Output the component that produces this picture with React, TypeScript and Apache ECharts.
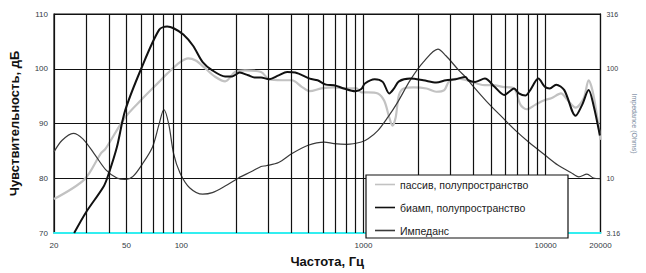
import React, { useEffect, useRef } from "react";
import * as echarts from "echarts";

const FONT = "'Liberation Sans', Arial, sans-serif";

const seriesNames = ["пассив, полупространство", "биамп, полупространство", "Импеданс"];

const xTickLabels = [20, 50, 100, 1000, 10000, 20000];
const freqGridLines = [
  30, 40, 50, 60, 70, 80, 90, 100,
  200, 300, 400, 500, 600, 700, 800, 900, 1000,
  2000, 3000, 4000, 5000, 6000, 7000, 8000, 9000, 10000,
];
const impedanceTickLabels = [3.16, 10, 100, 316];

const passive: [number, number][] = [
  [20, 76.2], [29.4, 79.8], [36.1, 84.5], [38.4, 85.4], [49.1, 91.1], [60.2, 94.3],
  [75.5, 97.6], [83.6, 99.1], [98.5, 101.2], [109, 101.9], [120, 101.5], [136, 100],
  [154, 98.5], [174, 97.7], [197, 99.4], [223, 99.7], [274, 99.4], [303, 98.1],
  [358, 97.9], [405, 97.9], [458, 96.7], [507, 95.9], [586, 96.4], [690, 96.6],
  [809, 96.4], [915, 96.4], [973, 95.7], [1060, 95.7], [1199, 95.5], [1302, 94.1],
  [1385, 91.1], [1442, 89.6], [1502, 91.1], [1566, 95.2], [1664, 96.4], [1883, 96.6],
  [2218, 96.4], [2508, 95.8], [2777, 96.1], [2953, 97.7], [3327, 98.2], [4188, 97.3],
  [4638, 97.0], [5136, 97.0], [5806, 96.7], [6704, 96.4], [7280, 93.4], [7896, 92.6],
  [8756, 93.4], [9900, 94.3], [10740, 94.6], [12140, 95.5], [13180, 94.3], [14600, 92.9],
  [16180, 94.6], [17220, 97.9], [18300, 95.2], [20000, 87],
];

const biamp: [number, number][] = [
  [25.8, 70], [30, 73.8], [37.6, 78.6], [40, 80.9], [44.3, 85.7], [49.1, 92.3],
  [60.2, 100], [75.5, 107.1], [83.6, 107.7], [90.7, 107.4], [102.6, 106.25], [116, 104.2],
  [131, 101.2], [148, 99.7], [174, 98.6], [190, 98.6], [209, 99.3], [233, 98.8],
  [252, 98.4], [274, 98.4], [303, 98.1], [342, 98.8], [381, 99.4], [422, 99.3],
  [507, 98.2], [560, 97.9], [623, 97.1], [690, 97.0], [780, 96.4], [901, 95.9],
  [973, 96.3], [1018, 97.3], [1152, 98.1], [1275, 97.6], [1385, 95.5], [1472, 96.4],
  [1566, 97.7], [1806, 98.2], [2130, 97.9], [2508, 97.5], [2836, 97.9], [3206, 98.1],
  [3626, 98.5], [3762, 97.9], [4100, 97.6], [4638, 98.2], [5244, 96.7], [5930, 95.2],
  [6306, 95.8], [6704, 96.4], [7130, 95.5], [7742, 95.1], [8232, 96.1], [9120, 98.2],
  [9900, 96.7], [10530, 96.4], [11420, 97.1], [12660, 96.1], [14600, 91.4], [15860, 93.4],
  [17220, 96.1], [18300, 93.4], [19860, 87.8],
];

const impedance: [number, number][] = [
  [20, 17.4], [22.1, 22.1], [25.5, 25.7], [28.8, 22.9], [33.2, 16.8], [38.4, 12.0],
  [44.3, 10.05], [49.1, 9.73], [54.3, 10.4], [61.5, 13.7], [69.5, 19.3], [75.5, 31.2],
  [80.2, 42.4], [85.3, 31.2], [90.7, 16.8], [98.5, 11.1], [111, 8.19], [131, 7.15],
  [148, 7.38], [174, 8.48], [206, 10.05], [243, 11.5], [274, 12.8], [292, 13.0],
  [342, 13.9], [405, 16.8], [497, 20.0], [610, 21.4], [690, 20.7], [809, 20.4],
  [973, 21.4], [1060, 22.9], [1199, 27.2], [1356, 35.7], [1533, 48.7], [1806, 78.6],
  [2130, 114.7], [2562, 150.8], [2836, 131.3], [3340, 96.5], [3626, 84.3], [4016, 68.6],
  [4736, 50.4], [5806, 35.7], [6846, 27.2], [8062, 21.4], [9900, 16.3], [11660, 13.2],
  [13740, 11.3], [15220, 10.3], [16860, 10.9], [18300, 10.05], [19860, 9.93],
];

export default function App() {
  const ref = useRef<HTMLDivElement>(null);
  useEffect(() => {
    if (!ref.current) return;
    const chart = echarts.init(ref.current, null, { renderer: "svg" });
    const labelStyle = { fontFamily: FONT, fontSize: 8, color: "#333a44" };
    const plain = (v: number) => String(Math.round(v * 100) / 100);
    chart.setOption({
      animation: false,
      backgroundColor: "#fff",
      grid: { left: 52, top: 14, right: 32, bottom: 35, show: true, borderColor: "#111", borderWidth: 1.2, backgroundColor: "transparent" },
      xAxis: {
        type: "log",
        logBase: 10,
        min: 20,
        max: 20000,
        name: "Частота, Гц",
        nameLocation: "middle",
        nameGap: 22,
        nameTextStyle: { fontFamily: FONT, fontSize: 13, fontWeight: "bold", color: "#111" },
        axisLine: { show: true, lineStyle: { color: "#33eef0", width: 2 } },
        axisTick: { show: false },
        splitLine: { show: false },
        minorSplitLine: { show: false },
        axisLabel: { ...labelStyle, margin: 8, customValues: xTickLabels, showMinLabel: true, showMaxLabel: true, formatter: plain },
      },
      yAxis: [
        {
          type: "value",
          min: 70,
          max: 110,
          interval: 10,
          name: "Чувствительность, дБ",
          nameLocation: "middle",
          nameGap: 33,
          nameTextStyle: { fontFamily: FONT, fontSize: 13, fontWeight: "bold", color: "#111" },
          axisLine: { show: true, lineStyle: { color: "#111", width: 1.2 } },
          axisTick: { show: false },
          splitLine: { show: true, lineStyle: { color: "#111", width: 1.2 } },
          axisLabel: { ...labelStyle, margin: 6 },
        },
        {
          type: "log",
          logBase: 10,
          min: 3.16,
          max: 316,
          position: "right",
          name: "Impedance (Ohms)",
          nameLocation: "middle",
          nameGap: 24,
          nameRotate: -90,
          nameTextStyle: { fontFamily: FONT, fontSize: 7, color: "#7a8aa0" },
          axisLine: { show: true, lineStyle: { color: "#111", width: 1.2 } },
          axisTick: { show: false },
          splitLine: { show: false },
          axisLabel: { ...labelStyle, fontSize: 7, margin: 6, customValues: impedanceTickLabels, showMinLabel: true, showMaxLabel: true, formatter: plain },
        },
      ],
      legend: {
        orient: "vertical",
        left: 375,
        top: 179,
        itemWidth: 20,
        itemHeight: 10,
        itemGap: 12,
        padding: 0,
        selectedMode: false,
        z: 20,
        icon: "path://M0,0H20V1.6H0Z",
        symbolKeepAspect: true,
        data: seriesNames,
        textStyle: { fontFamily: FONT, fontSize: 10.5, color: "#222" },
      },
      graphic: [
        {
          type: "rect",
          z: 10,
          shape: { x: 366, y: 175, width: 202, height: 63 },
          style: { fill: "#fff", stroke: "#111", lineWidth: 1.2 },
          silent: true,
        },
      ],
      series: [
        {
          name: "grid",
          type: "line",
          data: [],
          z: 1,
          silent: true,
          markLine: {
            silent: true,
            symbol: ["none", "none"],
            label: { show: false },
            lineStyle: { color: "#111", width: 1.2, type: "solid" },
            data: freqGridLines.map((v) => ({ xAxis: v })),
          },
        },
        {
          name: seriesNames[0],
          type: "line",
          data: passive,
          smooth: 0.3,
          symbol: "none",
          z: 3,
          lineStyle: { color: "#c2c2c2", width: 2.2 },
          itemStyle: { color: "#c2c2c2" },
        },
        {
          name: seriesNames[2],
          type: "line",
          data: impedance,
          yAxisIndex: 1,
          smooth: 0.3,
          symbol: "none",
          z: 4,
          lineStyle: { color: "#3a3a3a", width: 1.2 },
          itemStyle: { color: "#3a3a3a" },
        },
        {
          name: seriesNames[1],
          type: "line",
          data: biamp,
          smooth: 0.3,
          symbol: "none",
          z: 5,
          lineStyle: { color: "#111", width: 2 },
          itemStyle: { color: "#111" },
        },
      ],
    });
    return () => chart.dispose();
  }, []);
  return <div ref={ref} style={{ position: "fixed", left: 0, top: 0, width: 646, height: 273 }} />;
}
